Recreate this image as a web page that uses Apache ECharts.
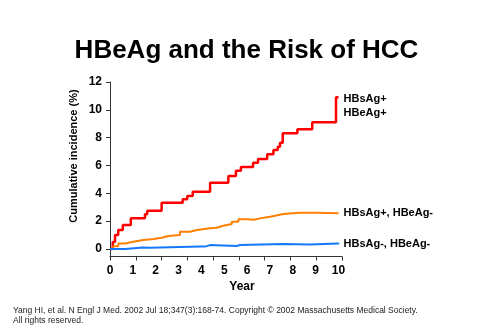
<!DOCTYPE html>
<html>
<head>
<meta charset="utf-8">
<script src="https://cdn.jsdelivr.net/npm/echarts@6/dist/echarts.min.js"></script>
<style>
  html, body { margin: 0; padding: 0; background: #fff; }
  #chart { width: 493px; height: 328px; }
</style>
</head>
<body>
<div id="chart"></div>
<script>
// Kaplan-Meier style cumulative incidence of HCC by serostatus (years, %)
const redYears   = [0, 0.12, 0.22, 0.36, 0.56, 0.91, 1.53, 1.63, 2.26, 3.18, 3.38, 3.62, 4.38, 5.18, 5.51, 5.73, 6.26, 6.48, 6.88, 7.15, 7.34, 7.44, 7.56, 8.2, 8.85, 9.89, 10.0];
const redPct     = [0, 0.5, 1.0, 1.36, 1.72, 2.2, 2.5, 2.75, 3.33, 3.57, 3.8, 4.12, 4.76, 5.24, 5.62, 5.9, 6.2, 6.47, 6.8, 7.11, 7.35, 7.64, 8.31, 8.6, 9.1, 10.9, 10.9];

const orangeYears = [0, 0.14, 0.36, 0.66, 1.02, 1.46, 1.9, 2.26, 2.55, 3.06, 3.5, 3.8, 4.38, 4.67, 4.96, 5.33, 5.62, 6.0, 6.3, 6.56, 7.0, 7.22, 7.58, 8.3, 9.0, 10.0];
const orangePct   = [0, 0.2, 0.4, 0.52, 0.65, 0.72, 0.81, 0.93, 1.0, 1.24, 1.36, 1.49, 1.53, 1.67, 1.8, 1.96, 2.13, 2.1, 2.2, 2.32, 2.39, 2.51, 2.6, 2.6, 2.57, 2.56];

const blueYears = [0, 0.66, 1.44, 1.75, 3.94, 4.16, 4.38, 5.54, 5.69, 7.57, 8.75, 10.0];
const bluePct   = [0, 0.1, 0.08, 0.17, 0.17, 0.28, 0.22, 0.28, 0.36, 0.33, 0.4, 0.34];

const yearLabels = [0, 1, 2, 3, 4, 5, 6, 7, 8, 9, 10];
const pctTicks   = [0, 2, 4, 6, 8, 10, 12];

const groupNames = ['HBsAg+\nHBeAg+', 'HBsAg+, HBeAg-', 'HBsAg-, HBeAg-'];

const pairs = (xs, ys) => xs.map((x, i) => [x, ys[i]]);

const FONT = '"Liberation Sans", Arial, Helvetica, sans-serif';
const axisColor = '#333333';

const chart = echarts.init(document.getElementById('chart'), null, { renderer: 'canvas' });

function seriesFor(name, data, color, width, labelOffset) {
  return {
    name: name,
    type: 'line',
    xAxisIndex: 0,
    yAxisIndex: 0,
    step: 'end',
    data: data,
    showSymbol: false,
    symbol: 'none',
    lineStyle: { color: color, width: width },
    endLabel: {
      show: true,
      formatter: name,
      distance: 5,
      offset: labelOffset,
      color: '#000',
      fontFamily: FONT,
      fontWeight: 'bold',
      fontSize: 11,
      lineHeight: 14,
      align: 'left'
    },
    emphasis: { disabled: true }
  };
}

chart.setOption({
  animation: false,
  backgroundColor: '#ffffff',
  title: {
    text: 'HBeAg and the Risk of HCC',
    left: 'center',
    top: 38,
    padding: 0,
    textStyle: { fontFamily: FONT, fontWeight: 'bold', fontSize: 26, color: '#000' }
  },
  grid: [
    { left: 110, top: 82, width: 228.5, height: 174.5, containLabel: false },
    { left: 110, top: 200, width: 232, height: 56.5, containLabel: false }
  ],
  xAxis: [
    {
      type: 'value', gridIndex: 0, min: 0, max: 10, interval: 1,
      axisLine: { show: false },
      axisTick: { show: false },
      splitLine: { show: false },
      axisLabel: {
        show: true, margin: 8, color: '#000',
        fontFamily: FONT, fontWeight: 'bold', fontSize: 12,
        customValues: yearLabels
      }
    },
    {
      type: 'value', gridIndex: 1, min: 0, max: 9, interval: 1,
      axisLine: { show: true, lineStyle: { color: axisColor, width: 1 } },
      axisTick: { show: true, inside: false, length: 4, lineStyle: { color: axisColor } },
      splitLine: { show: false },
      axisLabel: { show: false }
    }
  ],
  yAxis: [
    {
      type: 'value', gridIndex: 0, min: -0.54, max: 12,
      axisLine: { show: true, lineStyle: { color: axisColor, width: 1 } },
      axisTick: { show: true, inside: false, length: 4, lineStyle: { color: axisColor }, customValues: pctTicks },
      splitLine: { show: false },
      axisLabel: {
        show: true, margin: 8, color: '#000',
        fontFamily: FONT, fontWeight: 'bold', fontSize: 12,
        customValues: pctTicks
      }
    },
    {
      type: 'value', gridIndex: 1, min: 0, max: 1, show: false
    }
  ],
  graphic: [
    {
      type: 'text', x: 74, y: 156, rotation: Math.PI / 2,
      style: {
        text: 'Cumulative incidence (%)', fill: '#000',
        font: 'bold 11px ' + FONT, textAlign: 'center', textVerticalAlign: 'middle'
      }
    },
    {
      type: 'text', x: 242, y: 287,
      style: {
        text: 'Year', fill: '#000',
        font: 'bold 12px ' + FONT, textAlign: 'center', textVerticalAlign: 'middle'
      }
    },
    {
      type: 'text', x: 13, y: 305,
      style: {
        text: 'Yang HI, et al. N Engl J Med. 2002 Jul 18;347(3):168-74. Copyright \u00A9 2002 Massachusetts Medical Society.\nAll rights reserved.',
        fill: '#222', font: '8.5px ' + FONT, lineHeight: 10.5
      }
    }
  ],
  series: [
    seriesFor(groupNames[0], pairs(redYears, redPct), '#ff0000', 2.5, [0, 8.5]),
    seriesFor(groupNames[1], pairs(orangeYears, orangePct), '#ff8000', 2, [0, 0]),
    seriesFor(groupNames[2], pairs(blueYears, bluePct), '#1478ff', 2, [0, 0])
  ]
});
</script>
</body>
</html>
